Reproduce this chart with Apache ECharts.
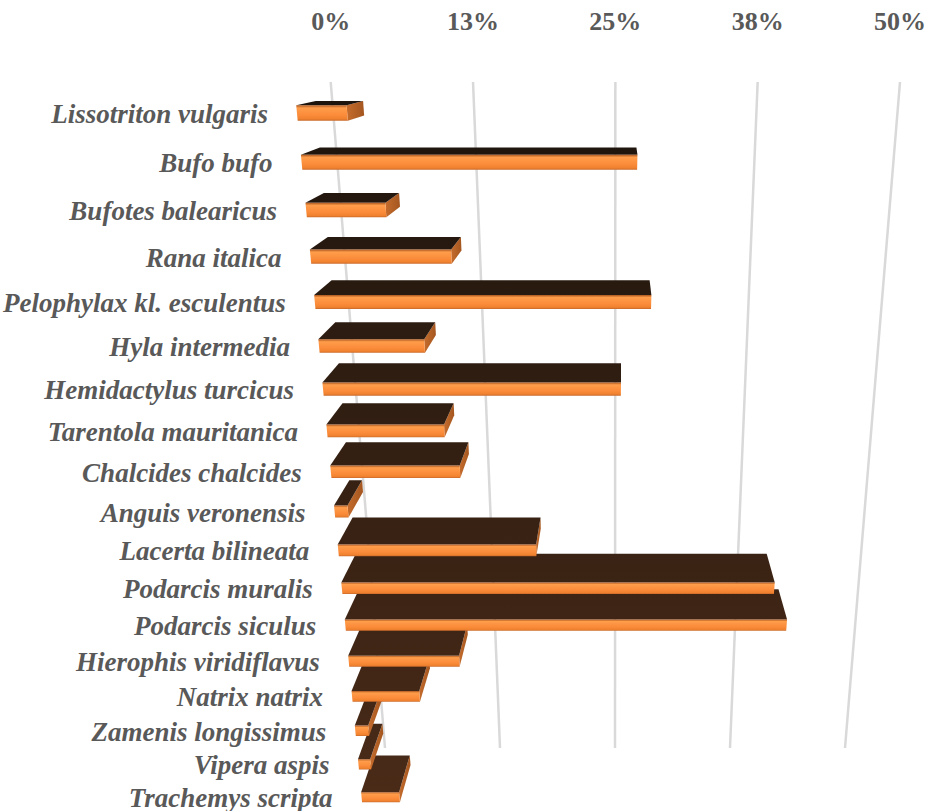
<!DOCTYPE html>
<html>
<head>
<meta charset="utf-8">
<script src="https://cdn.jsdelivr.net/npm/echarts/dist/echarts.min.js"></script>
<style>
html, body { margin: 0; padding: 0; background: #fff; }
#main { width: 934px; height: 811px; }
</style>
</head>
<body>
<div id="main"></div>
<script>
var chart = echarts.init(document.getElementById('main'), null, { renderer: 'svg' });

// data (share of sites, %)
var species = [
    'Lissotriton vulgaris', 'Bufo bufo', 'Bufotes balearicus', 'Rana italica',
    'Pelophylax kl. esculentus', 'Hyla intermedia', 'Hemidactylus turcicus',
    'Tarentola mauritanica', 'Chalcides chalcides', 'Anguis veronensis',
    'Lacerta bilineata', 'Podarcis muralis', 'Podarcis siculus',
    'Hierophis viridiflavus', 'Natrix natrix', 'Zamenis longissimus',
    'Vipera aspis', 'Trachemys scripta'
];
var shares = [3.9, 26.5, 6.4, 11.5, 27.9, 8.9, 25.5, 10.2, 11.4, 1.2, 18.0, 39.9, 41.3, 10.5, 6.5, 1.3, 1.2, 3.8];
var ticks = [0, 12.5, 25, 37.5, 50];

// 3D look: the flat grid is bent into a perspective view
var PERSP = 0.0141;            // row foreshortening
var FRONT_X0 = 297.7, FRONT_DX = 8.89;
var FRONT_Y0 = 120.7, FRONT_DY = 51.4;
var FRONT_SPAN = 642.5, SPAN_FALL = 0.0171;
var VANISH = [620, 35], DEPTH = 0.06;
var BAR_H = 0.31;
var WALL_BOTTOM_X0 = 385, WALL_BOTTOM_SPAN = 460;

function front(s, u) {
    var w = 1 + PERSP * u;
    return [(FRONT_X0 + FRONT_DX * u) / w + s * FRONT_SPAN / (1 + SPAN_FALL * u),
            (FRONT_Y0 + FRONT_DY * u) / w];
}
function back(p, u) {
    var k = DEPTH / (1 + PERSP * u);
    return [p[0] + k * (VANISH[0] - p[0]), p[1] + k * (VANISH[1] - p[1])];
}

var frontFill = new echarts.graphic.LinearGradient(0, 0, 0, 1, [
    { offset: 0, color: '#a9561f' },
    { offset: 0.18, color: '#ff9d4a' },
    { offset: 0.6, color: '#fb8d3c' },
    { offset: 0.88, color: '#f0822f' },
    { offset: 1, color: '#c9692a' }
]);
var topFill = new echarts.graphic.LinearGradient(0, 100, 0, 800, [
    { offset: 0, color: '#1d140d' },
    { offset: 1, color: '#4a2b18' }
], true);
var sideFill = new echarts.graphic.LinearGradient(0, 0, 1, 0, [
    { offset: 0, color: '#c56c2d' },
    { offset: 1, color: '#a4561f' }
]);

function renderGrid(params, api) {
    var cs = params.coordSys;
    var p = api.coord([api.value(0), 0]);
    var s = (p[0] - cs.x) / cs.width;
    return {
        type: 'line',
        shape: { x1: p[0], y1: cs.y, x2: WALL_BOTTOM_X0 + s * WALL_BOTTOM_SPAN, y2: cs.y + cs.height },
        style: { stroke: '#d9d9d9', lineWidth: 2.5 }
    };
}

function renderBar(params, api) {
    var cs = params.coordSys;
    var i = params.dataIndex;
    var end = api.coord([api.value(0), api.value(1)]);
    var start = api.coord([0, api.value(1)]);
    var s0 = (start[0] - cs.x) / cs.width;
    var s1 = (end[0] - cs.x) / cs.width;
    var row = (end[1] - cs.y) / cs.height * species.length - 0.5;
    var rt = row - BAR_H;

    var ftl = front(s0, rt), ftr = front(s1, rt);
    var fbl = front(s0, row), fbr = front(s1, row);
    var btl = back(ftl, rt), btr = back(ftr, rt), bbr = back(fbr, row);
    var zb = (species.length - i) * 10;

    var kids = [];
    if (ftr[0] < VANISH[0]) {
        kids.push({ type: 'polygon', z2: zb, shape: { points: [ftr, btr, bbr, fbr] },
            style: { fill: sideFill } });
    }
    kids.push({ type: 'polygon', z2: zb + 1, shape: { points: [ftl, ftr, btr, btl] },
        style: { fill: topFill } });
    kids.push({ type: 'polygon', z2: zb + 2, shape: { points: [ftl, ftr, fbr, fbl] },
        style: { fill: frontFill } });

    var mid = front(s0, row - BAR_H / 2);
    kids.push({ type: 'text', z2: zb,
        style: { text: species[i], x: mid[0] - 29, y: mid[1] + 1, align: 'right', verticalAlign: 'middle',
            fontFamily: 'Liberation Serif', fontSize: 27, fontWeight: 'bold', fontStyle: 'italic',
            fill: '#595959' } });
    return { type: 'group', children: kids };
}

var option = {
    animation: false,
    backgroundColor: '#fff',
    grid: { left: 330.7, top: 82, width: 569.3, height: 666 },
    xAxis: {
        type: 'value',
        position: 'top',
        min: 0,
        max: 50,
        interval: 12.5,
        axisLine: { show: false },
        axisTick: { show: false },
        splitLine: { show: false },
        axisLabel: {
            margin: 48,
            showMinLabel: true,
            showMaxLabel: true,
            fontFamily: 'Liberation Serif',
            fontWeight: 'bold',
            fontSize: 26,
            color: '#595959',
            formatter: function (v) { return Math.round(v) + '%'; }
        }
    },
    yAxis: {
        type: 'category',
        data: species,
        inverse: true,
        show: false
    },
    series: [
        {
            type: 'custom',
            clip: false,
            silent: true,
            renderItem: renderGrid,
            data: ticks.map(function (t) { return [t, 0]; })
        },
        {
            type: 'custom',
            clip: false,
            renderItem: renderBar,
            data: shares.map(function (v, i) { return [v, i]; })
        }
    ]
};

chart.setOption(option);
</script>
</body>
</html>
